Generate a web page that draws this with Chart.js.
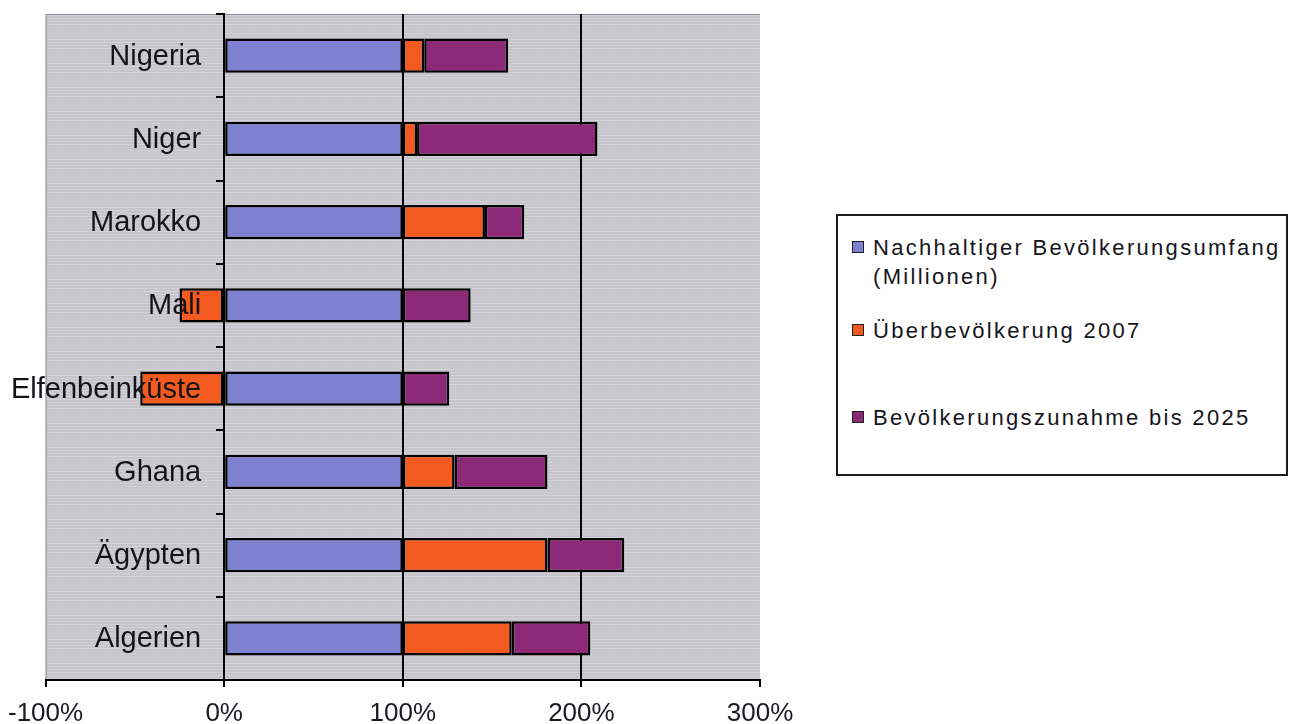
<!DOCTYPE html>
<html>
<head>
<meta charset="utf-8">
<script src="https://cdn.jsdelivr.net/npm/chart.js@4.4.1/dist/chart.umd.min.js"></script>
<style>
  body { margin: 0; background: #fff; width: 1293px; height: 724px; overflow: hidden; position: relative;
         font-family: "Liberation Sans", Arial, sans-serif; }
  #chart { position: absolute; left: -6px; top: 0; }
  #legend { position: absolute; left: 836px; top: 214px; width: 448px; height: 258px;
            border: 2px solid #1c1c1c; background: #fff; }
  .item { position: absolute; left: 14px; padding-left: 21px; font-size: 22px; letter-spacing: 2.3px;
          line-height: 29px; color: #151520; white-space: pre; }
  .item i { position: absolute; left: 0; top: 8px; width: 10px; height: 10px; border: 1.5px solid #222; }
</style>
</head>
<body>
<canvas id="chart" width="1299" height="741"></canvas>
<div id="legend"></div>
<script>
// Länder (von oben nach unten)
var laender = ['Nigeria', 'Niger', 'Marokko', 'Mali', 'Elfenbeinküste', 'Ghana', 'Ägypten', 'Algerien'];

// Werte in % des nachhaltigen Bevölkerungsumfangs
var nachhaltig = [100, 100, 100, 100, 100, 100, 100, 100];
var ueberbev2007 = [12, 8, 46, -25, -47, 29, 81, 61];
var zunahme2025 = [47, 101, 22, 38, 26, 52, 43, 44];

var serienNamen = ['Nachhaltiger Bevölkerungsumfang\n(Millionen)', 'Überbevölkerung 2007', 'Bevölkerungszunahme bis 2025'];
var farben = ['#7e80d0', '#f25a20', '#8d2a78'];

var xTicks = [-100, 0, 100, 200, 300];

// grau gepunkteter Hintergrund der Zeichenfläche
function makePattern() {
  var c = document.createElement('canvas');
  c.width = 6; c.height = 6;
  var g = c.getContext('2d');
  g.fillStyle = '#c7c5cc';
  g.fillRect(0, 0, 6, 6);
  g.fillStyle = '#d3d1d8';
  g.fillRect(0, 0, 6, 1);
  g.fillRect(0, 3, 6, 1);
  g.fillStyle = '#b9cbc2';
  g.fillRect(1, 1, 1, 1);
  g.fillRect(4, 4, 1, 1);
  g.fillStyle = '#d2bccb';
  g.fillRect(4, 1, 1, 1);
  g.fillRect(1, 4, 1, 1);
  return g.createPattern(c, 'repeat');
}

var plotBg = {
  id: 'plotBg',
  beforeDraw: function(chart) {
    var a = chart.chartArea, ctx = chart.ctx;
    ctx.save();
    ctx.fillStyle = makePattern();
    ctx.fillRect(a.left, a.top, a.right - a.left, a.bottom - a.top);
    ctx.strokeStyle = '#8a8a92';
    ctx.lineWidth = 1;
    ctx.beginPath();
    ctx.moveTo(a.left + 0.5, a.bottom);
    ctx.lineTo(a.left + 0.5, a.top + 0.5);
    ctx.lineTo(a.right, a.top + 0.5);
    ctx.stroke();
    ctx.restore();
  }
};

// Ländernamen links neben der 0%-Achse, über den Balken
var kategorieLabels = {
  id: 'kategorieLabels',
  afterDatasetsDraw: function(chart) {
    var ctx = chart.ctx, xs = chart.scales.x, ys = chart.scales.y;
    var x = xs.getPixelForValue(0) - 23;
    ctx.save();
    ctx.font = '29px "Liberation Sans", Arial, sans-serif';
    ctx.fillStyle = '#141418';
    ctx.textAlign = 'right';
    ctx.textBaseline = 'middle';
    chart.data.labels.forEach(function(l, i) {
      ctx.fillText(l, x, ys.getPixelForTick(i) + 1);
    });
    ctx.restore();
  }
};

var werte = [nachhaltig, ueberbev2007, zunahme2025];
var datasets = werte.map(function(d, i) {
  return {
    label: serienNamen[i],
    data: d,
    backgroundColor: farben[i],
    borderColor: '#000',
    borderWidth: 2.5,
    borderSkipped: false,
    barPercentage: 0.41,
    categoryPercentage: 1
  };
});

var chart = new Chart(document.getElementById('chart'), {
  type: 'bar',
  data: { labels: laender, datasets: datasets },
  options: {
    indexAxis: 'y',
    responsive: false,
    animation: false,
    layout: { padding: { left: 40, top: 14, right: 533, bottom: 0 } },
    plugins: { legend: { display: false }, tooltip: { enabled: false } },
    scales: {
      x: {
        stacked: true,
        min: -100,
        max: 300,
        afterBuildTicks: function(s) { s.ticks = xTicks.map(function(v) { return { value: v }; }); },
        ticks: {
          color: '#1a1a22',
          padding: 14,
          font: { family: 'Liberation Sans', size: 26, lineHeight: 1 },
          callback: function(v) { return v + '%'; }
        },
        grid: {
          color: function(c) {
            var v = c.tick ? c.tick.value : null;
            return (v === 0 || v === 100 || v === 200) ? '#000' : 'rgba(0,0,0,0)';
          },
          lineWidth: 2,
          tickColor: '#000',
          tickLength: 7
        },
        border: { display: true, color: '#000', width: 2 }
      },
      y: {
        stacked: true,
        position: { x: 0 },
        ticks: { display: false },
        grid: {
          drawOnChartArea: false,
          color: '#000',
          tickColor: '#000',
          lineWidth: 2,
          tickLength: 7
        },
        border: { display: true, color: '#000', width: 2 }
      }
    }
  },
  plugins: [plotBg, kategorieLabels]
});

// Legende als HTML aus den Datensätzen
var legendTops = [17, 100, 187];
var legend = document.getElementById('legend');
chart.data.datasets.forEach(function(ds, i) {
  var el = document.createElement('div');
  el.className = 'item';
  el.style.top = legendTops[i] + 'px';
  var box = document.createElement('i');
  box.style.background = ds.backgroundColor;
  el.appendChild(box);
  el.appendChild(document.createTextNode(ds.label));
  legend.appendChild(el);
});
</script>
</body>
</html>
